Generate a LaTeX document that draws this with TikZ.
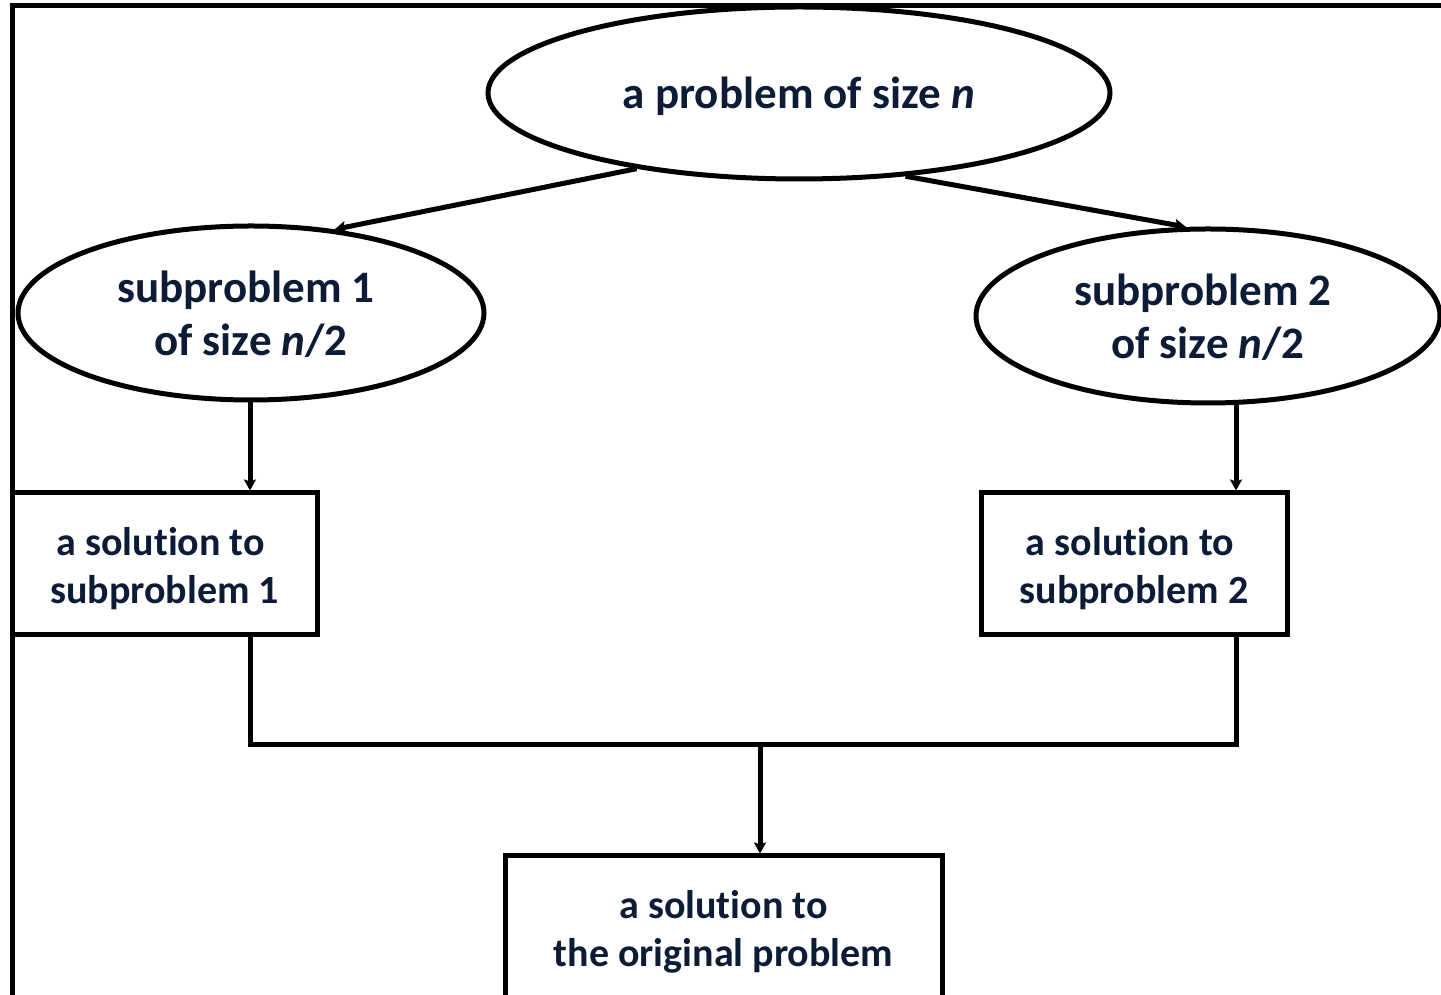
\documentclass[tikz,border=0pt]{standalone}
\usepackage{fontspec}
\setmainfont{Carlito}[Ligatures=NoCommon]
\usetikzlibrary{shapes.geometric,arrows.meta}
\definecolor{navy}{HTML}{0C1C36}
\newcommand\lowtext[2]{\raisebox{-#1}[\height][\depth]{\begin{tabular}{@{}c@{}}#2\end{tabular}}}
\begin{document}
\begin{tikzpicture}[x=1pt,y=1pt,
 ell/.style={ellipse, draw, line width=5pt, inner sep=0pt, text=navy, font=\bfseries\fontsize{45}{53}\selectfont},
 sbox/.style={rectangle, draw, line width=5pt, inner sep=0pt, text=navy, font=\bfseries\fontsize{40}{48}\selectfont},
 conn/.style={line width=5pt},
 arr/.style={conn, -{Stealth[length=11pt,width=12pt,inset=2pt]}}]
\useasboundingbox (0,0) rectangle (1441,994);
\draw[conn] (12,-20) -- (12,988.5) -- (1460,988.5);
\node[ell, minimum width=622pt, minimum height=172pt] (top) at (799,901) {\lowtext{5pt}{a problem of size \textit{n}}};
\node[ell, minimum width=466pt, minimum height=174pt] (left) at (251,681) {\lowtext{5pt}{subproblem 1\kern10pt\\of size \textit{n}/2}};
\node[ell, minimum width=464pt, minimum height=174pt] (right) at (1208,678) {\lowtext{5pt}{subproblem 2\kern10pt\\of size \textit{n}/2}};
\node[sbox, minimum width=305.5pt, minimum height=142pt] (lbox) at (164.75,430) {\lowtext{6pt}{a solution to\kern8pt\\subproblem 1}};
\node[sbox, minimum width=306pt, minimum height=142pt] (rbox) at (1134,430) {\lowtext{6pt}{a solution to\kern8pt\\subproblem 2}};
\node[sbox, minimum width=437pt, minimum height=146pt] (bbox) at (723.5,65) {\lowtext{4pt}{a solution to\\the original problem}};
\coordinate (jl) at (250,249);
\coordinate (jr) at (1236,249);
\coordinate (j) at (760,249);
\draw[arr] (top.205.3) -- (left.45);
\draw[arr] (top.322.4) -- (right.104);
\draw[arr] (jl |- left.south) -- (jl |- lbox.north);
\draw[arr] (jr |- right.south) -- (jr |- rbox.north);
\draw[conn] (jl |- lbox.south) -- (jl) -- (jr) -- (jr |- rbox.south);
\draw[arr] (j) -- (j |- bbox.north);
\end{tikzpicture}
\end{document}
